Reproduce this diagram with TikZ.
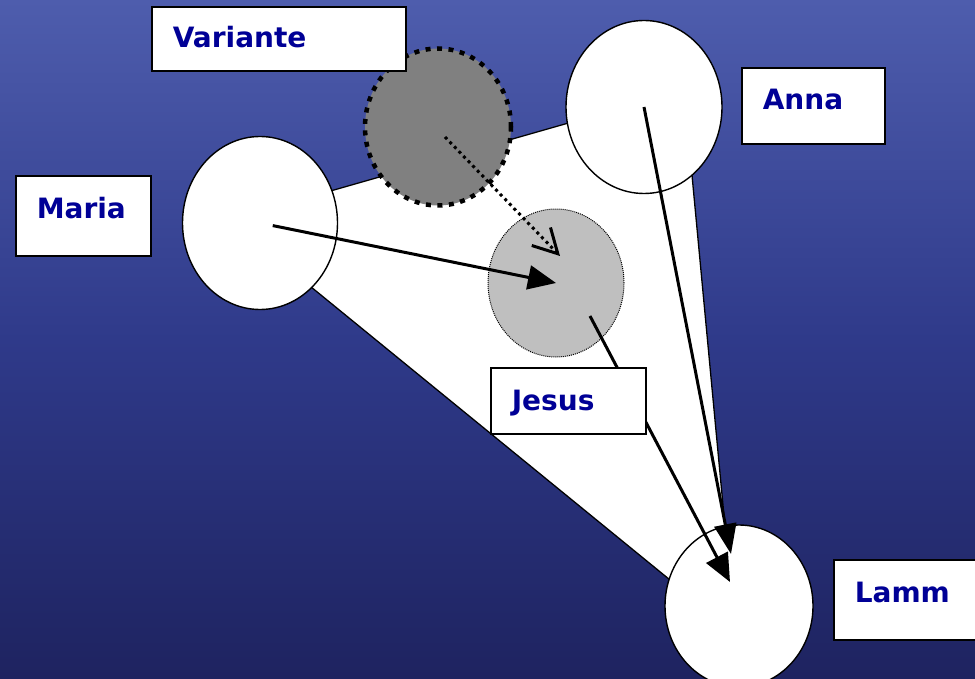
\documentclass[tikz,border=0pt]{standalone}
\usepackage{fontspec}
\setsansfont{DejaVu Sans}
\usetikzlibrary{shapes.geometric, arrows.meta}
\definecolor{seatop}{HTML}{4E5DAD}
\definecolor{seamid}{HTML}{2F3A8A}
\definecolor{seabot}{HTML}{1E2360}
\definecolor{namecol}{HTML}{000096}

\begin{document}
\begin{tikzpicture}[x=1pt, y=-1pt,
    person/.style={ellipse, draw, line width=1.4pt, fill=white, inner sep=0pt},
    tagbox/.style={draw, line width=1.6pt, fill=white, anchor=north west,
      inner xsep=21pt, inner ysep=0pt, align=left, text=namecol,
      font=\sffamily\bfseries\fontsize{28}{28}\selectfont},
    link/.style={line width=3pt, -{Triangle[length=28pt,width=24pt]}}]
  \useasboundingbox (0, 0) rectangle (975, 679);
  % sea
  \shade[top color=seatop, bottom color=seabot, middle color=seamid]
    (0, 0) rectangle (975, 679);
  % the triangle behind the three figures
  \filldraw[fill=white, line width=1.3pt] (229, 220) -- (684, 90) -- (735, 633) -- cycle;

  \node[person, minimum width=155pt, minimum height=173pt] (maria) at (260, 223) {};
  \node[person, minimum width=156pt, minimum height=173pt] (anna) at (644, 107) {};
  \node[person, minimum width=148pt, minimum height=162pt] (lamm) at (739, 606) {};
  \node[ellipse, draw, fill=black!50, inner sep=0pt, line width=4.5pt,
    dash pattern=on 5pt off 6.5pt, minimum width=146pt, minimum height=157pt]
    (variante) at (438, 127) {};
  \node[ellipse, draw, fill=black!25, inner sep=0pt, line width=1pt, densely dotted,
    minimum width=136pt, minimum height=148pt] (jesus) at (556, 283) {};

  \draw[link, shorten <=13pt] (maria.center) -- (jesus.center);
  \draw[line width=3pt, dash pattern=on 3pt off 3.6pt,
    -{Straight Barb[length=24pt,width=26pt,line width=3pt]}]
    ([shift={(7, 10)}]variante.center) -- ([shift={(4, -27)}]jesus.center);
  \draw[link, -{Triangle[length=30pt,width=22pt]}]
    (anna.center) -- ([shift={(-8, -52)}]lamm.center);
  \draw[link] ([shift={(34, 33)}]jesus.center) -- ([shift={(-9, -24)}]lamm.center);

  % name tags
  \node[tagbox, text width=212pt, text height=41pt, text depth=23pt] (variantetag)
    at (151, 6) {Variante};
  \node[tagbox, text width=101pt, text height=42pt, text depth=34pt] (annatag)
    at (741, 67) {Anna};
  \node[tagbox, text width=93pt, text height=43pt, text depth=37pt] (mariatag)
    at (15, 175) {Maria};
  \node[tagbox, text width=113pt, text height=43pt, text depth=23pt] (jesustag)
    at (490, 367) {Jesus};
  \node[tagbox, text width=120pt, text height=43pt, text depth=37pt] (lammtag)
    at (833, 559) {Lamm};
\end{tikzpicture}
\end{document}
